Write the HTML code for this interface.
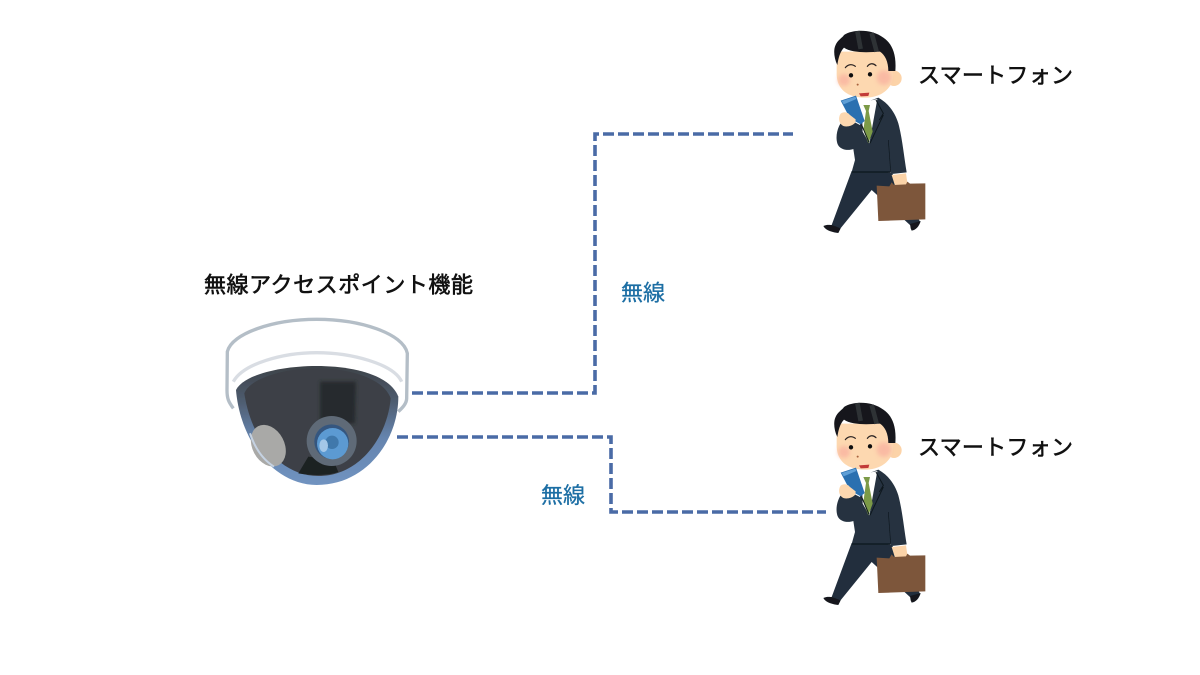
<!DOCTYPE html>
<html lang="ja"><head><meta charset="utf-8"><style>
html,body{margin:0;padding:0;background:#fff;width:1200px;height:675px;overflow:hidden}
svg{display:block}
text{font-family:"Liberation Sans","Noto Sans CJK JP",sans-serif;font-size:22px}
.k{fill:#111;stroke:#111;stroke-width:.6px}
.b{fill:#1c6ea4;stroke:#1c6ea4;stroke-width:.3px}
</style></head><body>
<svg width="1200" height="675" viewBox="0 0 1200 675" xmlns="http://www.w3.org/2000/svg">
<defs>
<filter id="s" x="-10%" y="-10%" width="120%" height="120%"><feGaussianBlur stdDeviation=".45"/></filter>
<filter id="c" x="-50%" y="-50%" width="200%" height="200%"><feGaussianBlur stdDeviation="6"/></filter>
<filter id="d" x="-30%" y="-30%" width="160%" height="160%"><feGaussianBlur stdDeviation="5"/></filter>
<linearGradient id="dome" x1="0" y1="0" x2="0" y2="1">
  <stop offset="0" stop-color="#3d4248"/><stop offset=".3" stop-color="#4f5d70"/><stop offset=".6" stop-color="#6584ae"/><stop offset="1" stop-color="#7093c0"/>
</linearGradient>
<g id="man">
  <path d="M95 438 L215 443 L262 520 L300 590 L272 602 L155 495 L60 612 L35 600 Z" fill="#212f3d"/>
  <path d="M10 603 C20 598 30 600 36 600 L62 610 L55 624 C40 622 18 618 10 603Z" fill="#12191f"/>
  <path d="M270 597 L302 588 C298 603 288 615 275 617 L272 610Z" fill="#12191f"/>
  <path d="M130 235 L175 218 C205 235 225 262 235 295 C247 340 252 395 260 442 L215 447 L212 440 L95 441 L105 405 L100 372 C85 378 58 375 52 355 C46 335 52 310 62 295 L100 290 L120 300 Z" fill="#253340"/>
  <path d="M125 232 L172 222 L148 355 L128 320 Z" fill="#fff"/>
  <path d="M130 240 L150 240 L146 258 L158 320 L145 355 L130 315 L138 258Z" fill="#7b9a46"/>
  <path d="M96 441 L212 441" stroke="#10181f" stroke-width="4" fill="none"/>
  <path d="M125 300 L147 352 M190 270 L150 355 M168 225 L190 265 L178 285" stroke="#10181f" stroke-width="3" fill="none"/>
  <path d="M205 345 L212 440" stroke="#10181f" stroke-width="2" fill="none"/>
  <circle cx="222" cy="160" r="23" fill="#fcd3a8"/>
  <path d="M50 80 L212 80 L220 150 C218 190 185 218 135 218 C85 218 52 195 50 150 Z" fill="#fdd8b0"/>
  <circle cx="72" cy="165" r="18" fill="#f9b3a0" filter="url(#c)" opacity=".8"/>
  <circle cx="192" cy="158" r="22" fill="#f9b3a0" filter="url(#c)" opacity=".8"/>
  <path d="M52 120 C42 100 40 75 46 62 C52 45 68 38 72 30 C100 12 155 12 190 38 C215 55 230 85 226 138 L205 138 C205 110 195 90 180 80 C145 82 95 85 72 68 C60 80 55 100 52 120Z" fill="#13161a"/>
  <path d="M112 18 L122 72 M155 24 L170 80" stroke="#34383d" stroke-width="14" fill="none" opacity=".8"/>
  <path d="M76 128 C84 118 96 116 106 124 M142 124 C150 114 160 114 168 122" stroke="#2a2320" stroke-width="3.500" fill="none" stroke-linecap="round"/>
  <circle cx="93" cy="151" r="6.500" fill="#111"/><circle cx="150" cy="148" r="6.500" fill="#111"/>
  <circle cx="113" cy="179" r="3" fill="#a8623e"/>
  <path d="M117 205 L148 203 L145 213 L122 214Z" fill="#c23a38"/>
  <path d="M62 227 L108 212 L134 288 L122 298 L90 280 Z" fill="#2a6fb0"/>
  <path d="M65 228 L106 215 L109 222 L71 238Z" fill="#5f9fd6"/>
  <path d="M62 266 C72 258 84 262 90 270 L107 283 L106 292 C100 302 78 308 68 302 C56 294 54 278 62 266Z" fill="#fdd8b0"/>
  <path d="M215 450 L258 445 L263 480 L225 482Z" fill="#fbd3a8"/>
  <path d="M208 484 L215 472 L222 480 L258 478 L262 470 L270 476 L316 475 L316 583 L175 588 L170 482Z" fill="#7d563b"/>
</g>
</defs>
<path d="M412 393H595V134H793" fill="none" stroke="#4a6ba6" stroke-width="3.600" stroke-dasharray="11 4"/>
<path d="M397 437H611V512H826" fill="none" stroke="#4a6ba6" stroke-width="3.600" stroke-dasharray="11 4"/>

<g transform="translate(200,300) scale(.33333)" filter="url(#s)">
  <path d="M100 325 C85 305 81 295 81 270 L82 155 C95 100 220 58 350 58 C480 58 610 100 622 160 L620 295 C620 312 605 325 595 335" fill="#fff" stroke="#b4bec7" stroke-width="10"/>
  <path d="M100 245 C130 190 250 158 350 158 C450 158 580 190 605 245" fill="none" stroke="#d9dde3" stroke-width="10"/>
  <path d="M108 270 C130 225 240 198 350 198 C460 198 570 225 595 290 C595 420 500 555 350 555 C220 555 120 420 108 270Z" fill="url(#dome)"/>
  <path d="M133 280 C150 235 250 205 350 205 C450 205 550 235 572 295 C562 410 480 528 355 528 C245 528 155 425 133 280Z" fill="#3c4146"/>
  <path d="M360 245 H468 L465 370 H360Z" fill="#27292d" filter="url(#d)"/>
  <path d="M325 470 L400 480 L415 516 C390 526 340 528 295 520Z" fill="#1e2023"/>
  <ellipse cx="205" cy="437" rx="48" ry="66" transform="rotate(-28 205 437)" fill="#a9a9a7"/>
  <path d="M150 400 C165 445 190 480 222 500" stroke="#c5d2e2" stroke-width="6" fill="none"/>
  <circle cx="395" cy="423" r="75" fill="#5e6a77"/>
  <circle cx="395" cy="425" r="52" fill="#34577f"/>
  <circle cx="398" cy="431" r="47" fill="#5b9ad2"/>
  <circle cx="396" cy="427" r="20" fill="#3f78ab"/>
  <ellipse cx="371" cy="437" rx="13" ry="19" fill="#a4c7e8"/>
</g>

<g transform="translate(820,25) scale(.33333)" filter="url(#s)"><use href="#man"/></g>
<g transform="translate(820,397) scale(.33333)" filter="url(#s)"><use href="#man"/></g>

<text class="k" x="918" y="83" textLength="155">スマートフォン</text>
<text class="k" x="918" y="455" textLength="155">スマートフォン</text>
<text class="k" x="204" y="292.500" textLength="269">無線アクセスポイント機能</text>
<text class="b" x="621" y="300.500">無線</text>
<text class="b" x="541" y="503">無線</text>
</svg>
</body></html>
